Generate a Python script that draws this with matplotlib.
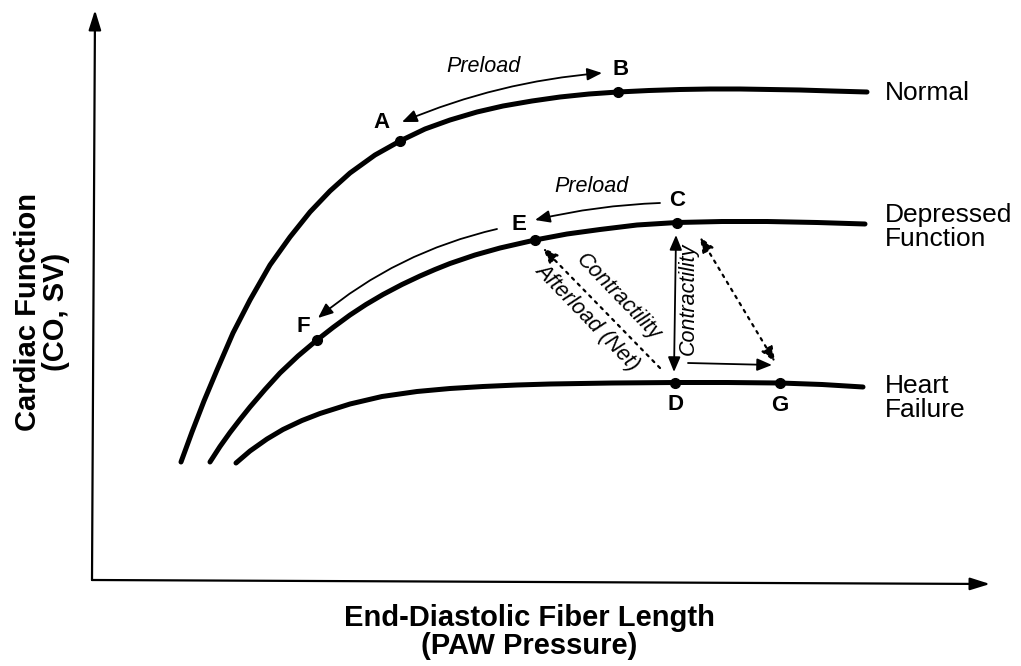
import matplotlib.pyplot as plt
import numpy as np

plt.rcParams["font.family"] = ["Liberation Sans", "DejaVu Sans"]

# schematic units (arbitrary): x = end-diastolic fiber length, y = cardiac function
normal_x = [89, 100, 112, 125, 141, 158, 178, 198, 218, 238, 258, 283, 308, 333, 358,
            385, 411, 440, 468, 497, 526, 557, 588, 618, 648, 678, 708, 740, 775]
normal_y = [118, 148, 179, 210, 247, 280, 315, 343, 368, 389, 407, 425, 439, 451, 460,
            468, 474, 479, 483, 486, 488, 489.5, 490.5, 491, 491, 490.5, 490, 489, 488]

depressed_x = [118, 128, 138, 148, 158, 173, 188, 206, 225, 241, 258, 274, 291, 310,
               328, 343, 358, 383, 408, 443, 475, 508, 545, 585, 630, 675, 725, 773]
depressed_y = [118, 133.5, 147.5, 160.5, 173, 190.5, 207, 224, 240, 252.5, 265, 275.5,
               285.5, 295.5, 304, 310.5, 316.5, 325, 332, 340, 346, 350.5, 355, 357.5,
               358.5, 358.5, 357.5, 356]

failure_x = [144, 158, 175, 191, 210, 228, 258, 290, 325, 358, 391, 425, 458, 520,
             583, 635, 688, 730, 771]
failure_y = [117, 129, 141, 150.5, 159.5, 166.5, 176, 183.5, 188.5, 191.5, 193.5, 195,
             196, 197, 197.5, 197.5, 197, 195.5, 193]

curve_names = ["Normal", "Depressed\nFunction", "Heart\nFailure"]

# operating points on the curves
point_labels = ["A", "B", "C", "D", "E", "F", "G"]
point_x = [308, 526, 585, 583, 443, 225, 688]
point_y = [439, 488, 357.5, 197.5, 340, 240, 197]

# arrows between states: (x_start, y_start, x_end, y_end)
preload_ab = (510, 507, 310, 458)
preload_ce = (568, 377, 443, 360)
preload_ef = (405, 351, 226, 262)
contract_cd = (584, 345, 582, 208)
preload_dg = (596, 217, 680, 215)
contract_cg = (608, 343, 683, 218)
afterload_de = (568, 212, 451, 332)


def draw_curve(ax, xs, ys, name, label_y):
    ax.plot(xs, ys, color="black", lw=3.6, solid_capstyle="round",
            solid_joinstyle="round")
    ax.text(793, label_y, name, fontsize=19, va="center", ha="left",
            linespacing=0.95)


def arrow(ax, seg, style="-|>", rad=0.0, ls="-", lw=1.3):
    ax.annotate("", xy=seg[2:], xytext=seg[:2],
                arrowprops=dict(arrowstyle=style + ",head_length=0.6,head_width=0.25",
                                connectionstyle=f"arc3,rad={rad}",
                                color="black", lw=lw, linestyle=ls,
                                shrinkA=0, shrinkB=0, mutation_scale=15))


fig = plt.figure(figsize=(10.21, 6.66), dpi=100)
ax = fig.add_axes([0, 0, 1, 1])
ax.set_xlim(-92, 929)
ax.set_ylim(-86, 580)
ax.axis("off")

# axes drawn as arrows
for end in [(3, 570), (898, -4)]:
    ax.annotate("", xy=end, xytext=(0, 0),
                arrowprops=dict(arrowstyle="-|>,head_length=0.8,head_width=0.25",
                                color="black", lw=1.6, shrinkA=0, shrinkB=0,
                                mutation_scale=15))

draw_curve(ax, normal_x, normal_y, curve_names[0], 487)
draw_curve(ax, depressed_x, depressed_y, curve_names[1], 353)
draw_curve(ax, failure_x, failure_y, curve_names[2], 182)

ax.plot(point_x, point_y, "o", color="black", ms=7, zorder=5)
offsets = {"A": (-13, 13), "B": (1.5, 16), "C": (0, 16), "D": (0, -16),
           "E": (-11.5, 11), "F": (-10, 9.5), "G": (0, -16)}
for lab, x, y in zip(point_labels, point_x, point_y):
    ax.annotate(lab, (x, y), xytext=offsets[lab], textcoords="offset points",
                ha="center", va="center", fontsize=16, fontweight="bold")

# arrows
arrow(ax, preload_ab, style="<|-|>", rad=0.08)
arrow(ax, preload_ce, rad=0.05)
arrow(ax, preload_ef, rad=0.12)
arrow(ax, contract_cd, style="<|-|>")
arrow(ax, preload_dg)
arrow(ax, contract_cg, style="<|-|>", ls=(0, (1.2, 2.5)), lw=1.6)
arrow(ax, afterload_de, ls=(0, (1.2, 2.5)), lw=1.6)

txt = dict(fontsize=15.5, style="italic", ha="center", va="center")
ax.text(391, 514, "Preload", **txt)
ax.text(499, 393, "Preload", **txt)
ax.text(526, 283, "Contractility", rotation=-46, **txt)
ax.text(495, 263, "Afterload (Net)", rotation=-46, **txt)
ax.text(596, 281, "Contractility", rotation=90, **txt)

fig.text(529 / 1021, 1 - 632 / 666, "End-Diastolic Fiber Length\n(PAW Pressure)",
         ha="center", va="center", fontsize=21, fontweight="bold",
         linespacing=1.0)
fig.text(42 / 1021, 1 - 312 / 666, "Cardiac Function\n(CO, SV)",
         ha="center", va="center", fontsize=21, fontweight="bold",
         rotation=90, linespacing=1.0)

fig.savefig("out.png", dpi=100)
